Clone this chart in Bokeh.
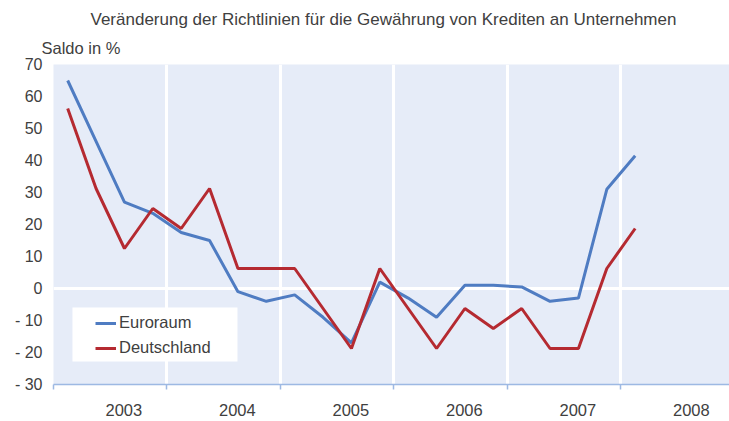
from bokeh.plotting import figure
from bokeh.models import (FixedTicker, Legend, LegendItem, BoxAnnotation,
                          ColumnDataSource, Range1d, Title)
from bokeh.embed import file_html
from bokeh.resources import INLINE

# ---- data ----
periods = ["2003Q1", "2003Q2", "2003Q3", "2003Q4",
           "2004Q1", "2004Q2", "2004Q3", "2004Q4",
           "2005Q1", "2005Q2", "2005Q3", "2005Q4",
           "2006Q1", "2006Q2", "2006Q3", "2006Q4",
           "2007Q1", "2007Q2", "2007Q3", "2007Q4",
           "2008Q1"]
euroraum = [65, 46, 27, 23.5, 17.5, 15, -1, -4, -2, -9, -17, 2,
            -3, -9, 1, 1, 0.5, -4, -3, 31, 41.5]
deutschland = [56.25, 31.25, 12.5, 25, 18.75, 31.25, 6.25, 6.25, 6.25, -6.25,
               -18.75, 6.25, -6.25, -18.75, -6.25, -12.5, -6.25, -18.75,
               -18.75, 6.25, 18.75]
years = [2003, 2004, 2005, 2006, 2007, 2008]
year_labels = ["2003", "2004", "2005", "2006", "2007", "2008"]
y_ticks = [-30, -20, -10, 0, 10, 20, 30, 40, 50, 60, 70]

title_text = "Veränderung der Richtlinien für die Gewährung von Krediten an Unternehmen"
ylabel_text = "Saldo in %"

# quarter centres as fractional years
xpos = [int(s[:4]) + (int(s[5]) - 0.5) / 4 for s in periods]
src = ColumnDataSource(dict(x=xpos, eu=euroraum, de=deutschland))

FONT = "Liberation Sans"
TXT = "#404040"
BLUE = "#4F7CC2"
RED = "#B52A31"
BG = "#E6ECF8"

p = figure(width=729, height=421, output_backend="svg", toolbar_location=None,
           x_range=Range1d(2003, 2008.956), y_range=Range1d(-30, 70),
           min_border_left=53, min_border_right=0, min_border_top=64,
           min_border_bottom=37)
p.background_fill_color = BG
p.border_fill_color = "white"
p.outline_line_color = None

# grids
p.xgrid.ticker = FixedTicker(ticks=years[1:])
p.xgrid.grid_line_color = "white"
p.xgrid.grid_line_width = 3
p.ygrid.ticker = FixedTicker(ticks=[0])
p.ygrid.grid_line_color = "white"
p.ygrid.grid_line_width = 3

# x axis: labels offset inside each year, tick marks at year boundaries
label_pos = [y + 0.62 for y in years]
p.xaxis.ticker = FixedTicker(ticks=label_pos, minor_ticks=years)
p.xaxis.major_label_overrides = {lp: lab for lp, lab in zip(label_pos, year_labels)}
p.xaxis.major_tick_out = 0
p.xaxis.major_tick_in = 0
p.xaxis.minor_tick_out = 5
p.xaxis.minor_tick_in = 0
p.xaxis.minor_tick_line_color = "#9DB9E3"
p.xaxis.minor_tick_line_width = 1.5
p.xaxis.axis_line_color = "#9DB9E3"
p.xaxis.axis_line_width = 1.5
p.xaxis.major_label_text_font = FONT
p.xaxis.major_label_text_font_size = "16.5px"
p.xaxis.major_label_text_color = TXT
p.xaxis.major_label_standoff = 14

# y axis
p.yaxis.ticker = FixedTicker(ticks=y_ticks)
p.yaxis.major_label_overrides = {t: (("- " + str(-t)) if t < 0 else str(t)) for t in y_ticks}
p.yaxis.axis_line_color = None
p.yaxis.major_tick_line_color = None
p.yaxis.minor_tick_line_color = None
p.yaxis.major_label_text_font = FONT
p.yaxis.major_label_text_font_size = "16px"
p.yaxis.major_label_text_color = TXT
p.yaxis.major_label_standoff = 5

# legend background box
p.add_layout(BoxAnnotation(left=2003.167, right=2004.621, top=-5.9, bottom=-22.8,
                           fill_color="white", fill_alpha=1, line_color=None,
                           level="underlay"))

r_eu = p.line("x", "eu", source=src, line_color=BLUE, line_width=3)
r_de = p.line("x", "de", source=src, line_color=RED, line_width=3)

legend = Legend(items=[LegendItem(label="Euroraum", renderers=[r_eu]),
                       LegendItem(label="Deutschland", renderers=[r_de])],
                location=(42, 27), padding=4, margin=0, spacing=6,
                glyph_width=21, glyph_height=18, label_height=18,
                label_standoff=3, border_line_color=None,
                background_fill_alpha=0,
                label_text_font=FONT, label_text_font_size="16.5px",
                label_text_color=TXT)
p.add_layout(legend, "center")

# unit label (closest to plot) and title above it
p.add_layout(Title(text=ylabel_text, align="left", offset=-12, standoff=16,
                   text_font=FONT, text_font_size="16.5px", text_font_style="normal",
                   text_color=TXT), "above")
p.add_layout(Title(text=title_text, align="left", offset=37, standoff=0,
                   text_font=FONT, text_font_size="17px", text_font_style="normal",
                   text_color=TXT), "above")

open("out.html", "w").write(file_html(p, INLINE))
